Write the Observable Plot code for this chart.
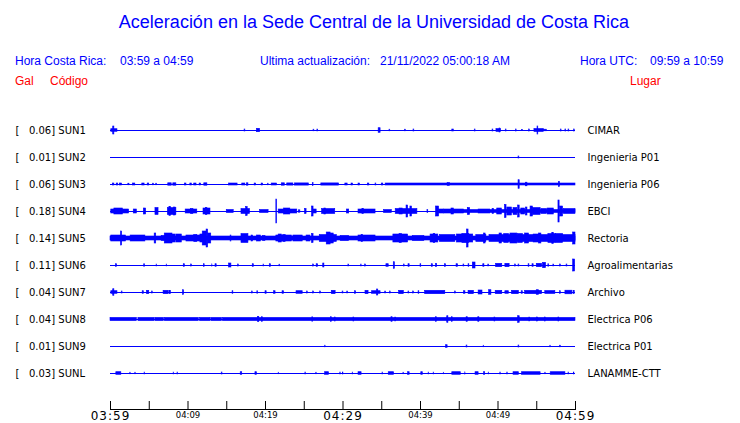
<!DOCTYPE html>
<html><head><meta charset="utf-8">
<script src="https://cdn.jsdelivr.net/npm/d3@7"></script>
<script src="https://cdn.jsdelivr.net/npm/@observablehq/plot@0.6"></script>
<style>
body{margin:0;background:#fff;}
#wrap{position:relative;width:740px;height:423px;overflow:hidden;background:#fff;}
#wrap svg{position:absolute;left:0;top:0;}
.h{position:absolute;font-family:"Liberation Sans",Arial,sans-serif;font-size:12px;white-space:pre;line-height:12px;}
.blue{color:#0000ff}.red{color:#ff0000}
#title{position:absolute;left:0;width:748px;top:13px;text-align:center;font-family:"Liberation Sans",Arial,sans-serif;font-size:18px;line-height:18px;color:#0000ff;}
</style></head>
<body>
<div id="wrap">
  <div id="chart"></div>
  <div id="title">Aceleración en la Sede Central de la Universidad de Costa Rica</div>
  <div class="h blue" style="left:15px;top:55px">Hora Costa Rica:</div>
  <div class="h blue" style="left:120px;top:55px">03:59 a 04:59</div>
  <div class="h blue" style="left:260px;top:55px">Ultima actualización:</div>
  <div class="h blue" style="left:380px;top:55px">21/11/2022 05:00:18 AM</div>
  <div class="h blue" style="left:580px;top:55px">Hora UTC:</div>
  <div class="h blue" style="left:650px;top:55px">09:59 a 10:59</div>
  <div class="h red" style="left:15px;top:75px">Gal</div>
  <div class="h red" style="left:50px;top:75px">Código</div>
  <div class="h red" style="left:630px;top:75px">Lugar</div>
</div>
<script>
// ---- data ----
const codes  = ["SUN1","SUN2","SUN3","SUN4","SUN5","SUN6","SUN7","SUN8","SUN9","SUNL"];
const gal    = [0.06, 0.01, 0.06, 0.18, 0.14, 0.11, 0.04, 0.04, 0.01, 0.03];
const places = ["CIMAR","Ingenieria P01","Ingenieria P06","EBCI","Rectoria","Agroalimentarias","Archivo","Electrica P06","Electrica P01","LANAMME-CTT"];

// minutes after 03:59 for axis ticks and their labels
const tickMinutes = [0,5,10,15,20,25,30,35,40,45,50,55,60];
const majorTicks  = [0, 30, 60];
const majorLabels = ["03:59","04:29","04:59"];
const minorTicks  = [10, 20, 40, 50];
const minorLabels = ["04:09","04:19","04:39","04:49"];

// trace envelopes: [start minute, end minute, half amplitude]
const sun1 = [[0.1,0.9,1.3],[0.35,0.5,4],[17.3,17.4,1],[18.9,19.3,1.7],[26.2,26.3,0.8],[26.7,26.8,1],[34.6,34.85,2.3],[36.0,36.1,0.8],[38.0,38.1,0.8],[39.1,39.2,1],[44.1,44.3,1],[47.0,47.1,1],[49.3,49.4,1],[49.8,50.4,1.4],[50.2,50.3,2],[51.0,51.1,1],[52.3,52.4,1],[53.1,53.2,0.7],[54.0,54.1,1],[54.7,55.9,1.5],[55.1,55.2,4],[55.9,56.3,0.8],[58.1,58.2,1],[58.7,58.8,1],[59.1,59.2,1],[59.8,59.9,1]];
const sun2 = [[52.65,52.75,1]];
const sun3 = [[0.3,0.5,1],[0.8,1.0,1],[1.2,1.5,1],[2.3,2.45,0.8],[2.9,3.2,1],[4.1,4.4,1],[4.8,5.0,1],[5.5,5.6,0.8],[5.9,6.0,0.8],[7.45,7.9,1.2],[8.1,8.5,1.2],[9.6,9.8,1],[10.3,10.5,1],[10.8,11.1,1],[11.5,11.7,1],[12.1,12.5,1.2],[15.3,16.4,1],[17.0,17.4,1],[17.6,17.8,1.2],[18.6,18.8,1],[19.5,19.7,1],[20.3,20.4,0.8],[20.8,21.5,1],[22.1,22.5,1.2],[22.8,23.6,1.1],[23.8,25.6,1.1],[26.1,26.2,1.6],[27.2,29.5,1.1],[30.3,30.6,1],[31.1,31.3,1],[32.0,32.2,1],[33.2,33.4,1],[34.2,34.3,1],[35.0,35.2,1],[35.5,60,1.0],[43.5,43.8,1.4],[52.65,52.8,4.3],[53.6,53.8,1.8],[57.85,58.0,2.5]];
const sun4 = [[0.1,2.4,2],[0.5,1.6,3],[3.0,3.4,2],[4.3,4.6,3],[5.8,6.2,3.5],[7.4,8.5,3.5],[7.6,7.8,4.5],[8.2,8.4,4],[9.7,11.2,2],[10.4,10.7,2.5],[12.0,12.9,3],[12.3,12.5,3.5],[15.0,15.9,1.5],[16.9,18.0,2.5],[17.5,17.7,4.5],[19.3,20.4,1.5],[21.4,21.5,12],[21.7,24.1,2],[22.4,23.2,3],[24.3,24.5,1.2],[25.1,25.3,2.5],[26.0,26.2,5],[26.2,26.6,2],[27.3,29.0,2.5],[27.6,27.8,3],[30.5,30.8,2],[32.0,34.2,2],[32.5,32.7,2.5],[35.3,36.3,1.5],[36.8,39.6,2.5],[37.3,37.7,3],[38.2,38.4,6],[38.7,38.9,5],[40.9,41.0,1.5],[42.0,42.4,5],[42.4,43.0,2],[43.0,45.6,2],[44.0,44.3,3],[45.0,60,1.5],[46.1,46.4,3.5],[47.5,49.0,2],[49.3,49.5,2.5],[49.9,50.5,3],[50.9,51.1,6.5],[51.2,51.8,4],[52.0,52.5,3.5],[52.6,52.8,6],[53.0,53.5,3],[53.6,53.8,4],[54.2,54.5,5],[54.5,55.5,3.5],[55.6,56.3,2.5],[56.4,57.2,3],[57.8,57.95,11],[58.0,58.4,5],[58.5,60,2.5]];
const sun5 = [[0,60,2],[0.1,1.4,3],[1.35,1.5,7],[1.5,2.0,3],[2.6,4.5,3],[5.7,5.9,5],[6.6,7.4,2.5],[7.0,8.0,5],[8.0,8.4,4],[8.5,9.2,4],[9.8,11.6,3],[10.8,11.2,3.5],[11.6,12.2,4],[11.9,12.4,7],[12.4,12.6,9],[12.6,13.0,5],[15.5,15.6,3],[16.9,17.8,4.5],[18.2,18.4,3],[18.9,19.4,3],[19.7,20.0,2.5],[21.4,23.4,3],[21.7,22.1,4],[22.3,22.6,3.5],[23.6,24.8,3],[25.3,25.8,3],[26.0,26.2,4.5],[27.0,29.2,3.5],[27.9,28.4,6],[28.4,28.8,5],[29.7,30.8,2.5],[32.0,34.2,3],[32.4,32.6,3.5],[36.5,38.4,4],[37.3,37.6,4.5],[39.0,40.5,2.5],[41.3,42.3,4],[41.7,41.9,4.5],[42.5,44.5,3.5],[44.7,46.0,4],[45.4,46.3,4.5],[46.0,46.2,9],[46.3,46.8,4],[47.2,48.5,3.5],[48.2,48.4,5],[48.9,60,3.5],[50.2,50.5,5],[50.8,51.4,4.5],[51.6,52.5,5],[52.6,53.2,4.5],[53.5,54.0,5],[54.6,55.4,4],[55.3,55.6,5],[56.5,57.5,4.5],[57.0,57.2,5.5],[57.5,58.4,4.5],[59.7,60,6]];
const sun6 = [[0.7,0.85,1.3],[4.35,4.45,1.3],[5.95,6.0,1],[7.25,7.3,1],[9.45,9.6,1.3],[10.4,10.5,1],[12.05,12.15,1.3],[13.1,13.15,1],[13.55,13.7,1.3],[15.3,15.6,2],[16.45,16.55,1],[18.35,18.5,1.3],[19.75,19.8,1],[20.55,20.7,1.3],[21.8,21.9,0.8],[26.15,26.25,1],[26.6,26.8,1.3],[27.45,27.6,2],[30.7,30.8,1],[32.35,32.4,1],[32.85,32.95,1],[35.6,35.9,1.3],[36.55,36.7,3.3],[37.85,37.95,1],[38.45,38.6,1.3],[40.0,40.1,1.3],[41.45,41.6,1.3],[42.0,42.15,1.7],[43.15,43.3,1.3],[44.65,44.85,1.3],[45.55,45.65,1],[46.2,46.3,1.3],[46.75,47.1,3],[48.1,48.25,1.3],[48.75,48.85,1],[49.75,50.55,1.7],[50.95,51.5,1.7],[52.2,52.3,1],[52.65,52.75,1],[53.95,54.05,1.3],[54.45,54.6,1.3],[55.0,55.7,1.7],[55.8,56.2,2.7],[56.5,56.6,1.3],[57.15,57.25,1],[58.0,58.1,1],[58.85,58.95,1],[59.7,59.95,6]];
const sun7 = [[0.1,0.9,1.3],[0.35,0.5,3.3],[1.45,1.55,1],[4.15,4.3,1.3],[4.7,5.0,1.7],[5.35,5.45,1],[6.85,7.5,1.7],[7.6,7.8,1.7],[9.35,9.5,2.3],[15.75,15.85,1.3],[18.25,18.35,1],[18.95,19.05,1.3],[20.0,20.15,1.3],[21.1,21.3,1.3],[22.2,22.4,1.3],[24.0,24.8,1.3],[25.35,25.45,1],[26.15,26.25,1],[27.05,27.15,1],[28.55,29.05,1.7],[29.95,30.05,1],[30.55,30.65,1],[31.55,31.7,1.3],[32.9,33.3,1.7],[33.75,34.85,1.3],[34.4,34.55,3],[35.45,35.55,1],[36.05,36.15,1],[37.25,37.85,1.7],[38.45,38.55,1],[39.05,39.15,1],[39.75,39.85,1.3],[40.6,43.2,1.7],[44.45,44.55,1],[45.6,45.8,1.3],[46.2,46.9,1.7],[47.5,48.0,2],[48.85,49.15,2.3],[49.7,50.55,1.7],[50.95,51.4,1.3],[51.8,52.7,1.7],[53.05,53.2,1.3],[53.5,55.7,1.7],[55.0,55.3,2.3],[56.1,57.4,1.5],[58.0,58.1,1.3],[58.7,59.6,1.8],[59.75,59.9,1.7]];
const sun8 = [[0,3.4,1.6],[3.6,5.7,1.6],[5.8,6.9,1.6],[7.0,11.4,1.6],[11.55,12.9,1.6],[13.0,14.4,1.6],[14.5,60,1.6],[19.05,19.2,2.7],[19.55,19.65,2.3],[26.05,26.15,2.3],[28.45,28.55,2.3],[28.95,29.05,2],[31.35,31.45,2],[36.25,36.4,2.3],[36.75,36.85,2],[42.0,42.1,2.3],[43.45,43.6,3.3],[44.05,44.15,2.3],[45.95,46.1,2.3],[47.45,47.6,2.3],[49.55,49.65,2],[52.6,52.8,3.3],[54.05,54.15,2],[55.05,55.15,2],[56.05,56.15,2],[57.8,57.9,2]];
const sun9 = [[27.7,27.75,0.8],[43.3,43.5,1.3],[45.95,46.05,1],[48.15,48.2,0.8],[52.65,52.75,1],[56.75,56.8,0.8],[58.0,58.1,0.8]];
const sunl = [[0.75,1.4,1.3],[2.55,2.6,0.8],[3.2,3.25,0.8],[4.4,4.45,1],[8.15,8.2,1],[8.65,8.7,1],[14.35,14.45,1],[16.8,17.0,1.3],[18.7,18.9,1.3],[21.7,21.75,0.8],[25.15,25.2,1],[26.55,26.6,0.8],[27.7,28.2,1.3],[29.65,29.7,1],[30.0,30.05,1],[31.25,31.3,1],[32.0,32.4,1.3],[35.1,35.15,1],[35.9,36.6,1.3],[37.8,37.85,0.8],[38.4,38.6,1.3],[40.1,40.3,1.3],[41.05,41.1,1],[41.7,41.75,1],[43.0,43.05,0.8],[44.1,45.2,1.3],[45.75,45.8,1],[47.1,47.5,1.3],[48.2,48.35,1.3],[48.8,48.85,1],[50.3,50.35,1],[51.2,51.25,1],[52.0,52.7,1.3],[53.1,55.5,1.3],[56.1,56.15,0.8],[56.8,58.7,1.3],[59.1,59.15,1],[59.8,59.85,1]];

// ---- build tables ----
const traces = [sun1, sun2, sun3, sun4, sun5, sun6, sun7, sun8, sun9, sunl];
const BLUE = "#0000ff";
const AMP = 1 / 27; // amplitude units per row
const NB = "\u00a0";
const rows = codes.map((c, i) => ({i, code: c, gal: gal[i], place: places[i]}));
const events = traces.flatMap((tr, i) => tr.map(([t0, t1, a]) => ({i, t0, t1, a})));
const major = majorTicks.map((t, k) => ({t, label: majorLabels[k]}));
const minor = minorTicks.map((t, k) => ({t, label: minorLabels[k]}));

const chart = Plot.plot({
  width: 740, height: 423,
  marginLeft: 110, marginRight: 165, marginTop: 100, marginBottom: 13,
  x: {domain: [0, 60], axis: null},
  y: {domain: [-0.5, 9.5], range: [116.5, 386.5], axis: null},
  style: {background: "transparent", overflow: "visible"},
  marks: [
    Plot.ruleY(rows, {y: "i", x1: 0, x2: 60, stroke: BLUE, strokeWidth: 1}),
    Plot.rect(events, {x1: "t0", x2: "t1", y1: d => d.i - d.a * AMP, y2: d => d.i + d.a * AMP, fill: BLUE, stroke: BLUE, strokeWidth: 0.6}),
    Plot.text(rows, {y: "i", text: d => `[${NB}${NB}${NB}${d.gal.toFixed(2)}] ${d.code}`, frameAnchor: "left", dx: -95, textAnchor: "start", fontFamily: "DejaVu Sans", fontSize: 10, fill: "black"}),
    Plot.text(rows, {y: "i", text: "place", frameAnchor: "right", dx: 12, textAnchor: "start", fontFamily: "DejaVu Sans", fontSize: 10, fill: "black"}),
    Plot.rect([0], {x1: 0, x2: 60, insetTop: 309, fill: "black"}),
    Plot.ruleX(tickMinutes, {x: d => d, insetTop: 301, stroke: "black"}),
    Plot.text(major, {x: "t", text: "label", frameAnchor: "bottom", lineAnchor: "middle", dy: 6, fontFamily: "DejaVu Sans", fontSize: 12, fill: "black"}),
    Plot.text(minor, {x: "t", text: "label", frameAnchor: "bottom", lineAnchor: "middle", dy: 5, fontFamily: "DejaVu Sans", fontSize: 8.5, fill: "black"})
  ]
});
document.getElementById("chart").appendChild(chart);
// wider letter spacing of the large time labels, as in the original
d3.select(chart).selectAll("text").filter(function() { return majorLabels.includes(this.textContent); }).style("letter-spacing", "1px");
</script>
</body></html>
